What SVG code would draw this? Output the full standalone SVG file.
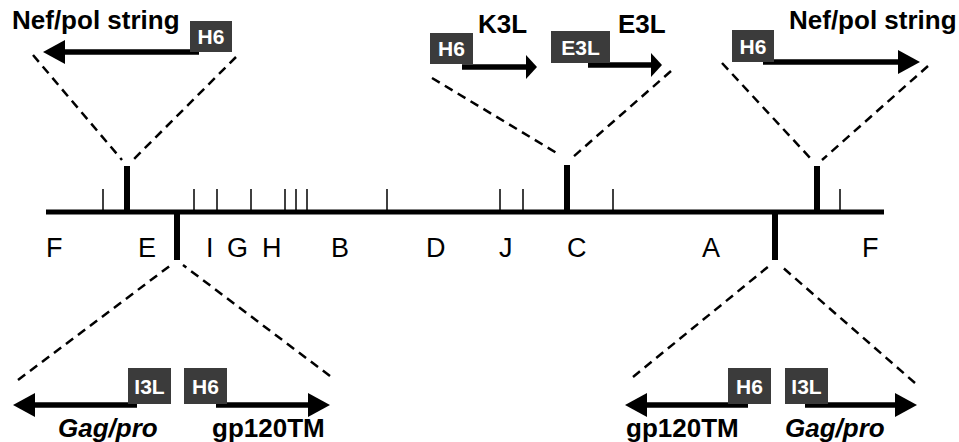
<svg xmlns="http://www.w3.org/2000/svg" width="959" height="442" viewBox="0 0 959 442">
<style>
.dash{stroke:#000;stroke-width:2.5;stroke-dasharray:9 6;fill:none}
.arr{stroke:#000;stroke-width:5.5;fill:none}
.box{fill:#3b3b3b}
.bt{font-family:"Liberation Sans",Arial,sans-serif;font-weight:bold;font-size:21px;fill:#fff}
.lbl{font-family:"Liberation Sans",Arial,sans-serif;font-weight:bold;font-size:26px;fill:#000}
.seg{font-family:"Liberation Sans",Arial,sans-serif;font-size:27px;fill:#000}
.thin{stroke:#000;stroke-width:1.5}
.thick{stroke:#000;stroke-width:6}
</style>
<defs>
<marker id="big" viewBox="0 0 22 24" refX="12" refY="12" markerWidth="22" markerHeight="24" markerUnits="userSpaceOnUse" orient="auto"><path d="M0,0 L22,12 L0,24 z" fill="#000"/></marker>
<marker id="small" viewBox="0 0 11 24" refX="4" refY="12" markerWidth="11" markerHeight="24" markerUnits="userSpaceOnUse" orient="auto"><path d="M0,0 L11,12 L0,24 z" fill="#000"/></marker>
</defs>
<g id="genome">
<line x1="46" y1="212" x2="884" y2="212" stroke="#000" stroke-width="5"/>
<g class="thin">
<line x1="103" y1="189" x2="103" y2="212"/><line x1="194" y1="189" x2="194" y2="212"/><line x1="217" y1="189" x2="217" y2="212"/><line x1="251" y1="189" x2="251" y2="212"/><line x1="285" y1="189" x2="285" y2="212"/><line x1="296" y1="189" x2="296" y2="212"/><line x1="307" y1="189" x2="307" y2="212"/><line x1="387" y1="189" x2="387" y2="212"/><line x1="500" y1="189" x2="500" y2="212"/><line x1="523" y1="189" x2="523" y2="212"/><line x1="613" y1="189" x2="613" y2="212"/><line x1="840" y1="189" x2="840" y2="212"/>
</g>
<g class="thick">
<line x1="127" y1="166" x2="127" y2="212"/><line x1="567" y1="165" x2="567" y2="212"/><line x1="817" y1="166" x2="817" y2="212"/>
<line x1="177" y1="212" x2="177" y2="260"/><line x1="775" y1="212" x2="775" y2="260"/>
</g>
<g class="seg">
<text x="46" y="257">F</text><text x="138" y="257">E</text><text x="206" y="257">I</text><text x="227" y="257">G</text><text x="262" y="257">H</text><text x="331" y="257">B</text><text x="426" y="257">D</text><text x="499" y="257">J</text><text x="567" y="257">C</text><text x="702" y="257">A</text><text x="862" y="257">F</text>
</g>
</g>
<g id="connectors">
<line class="dash" x1="33" y1="55" x2="122" y2="160"/><line class="dash" x1="236" y1="57" x2="133" y2="160"/>
<line class="dash" x1="432" y1="78" x2="560" y2="155"/><line class="dash" x1="671" y1="71" x2="573" y2="157"/>
<line class="dash" x1="722" y1="63" x2="812" y2="160"/><line class="dash" x1="928" y1="66" x2="822" y2="160"/>
<line class="dash" x1="18" y1="380" x2="171" y2="265"/><line class="dash" x1="330" y1="376" x2="183" y2="265"/>
<line class="dash" x1="633" y1="377" x2="769" y2="266"/><line class="dash" x1="915" y1="383" x2="781" y2="266"/>
</g>
<g id="insert-E">
<line class="arr" x1="199" y1="52" x2="53" y2="52" marker-end="url(#big)"/>
<rect class="box" x="190" y="21" width="42" height="31"/><text class="bt" x="211" y="44" text-anchor="middle">H6</text>
<text class="lbl" x="12" y="29">Nef/pol string</text>
</g>
<g id="insert-C">
<line class="arr" x1="462" y1="67" x2="530" y2="67" marker-end="url(#small)"/>
<rect class="box" x="430" y="33" width="43" height="31"/><text class="bt" x="451.5" y="56" text-anchor="middle">H6</text>
<text class="lbl" x="478" y="33">K3L</text>
<line class="arr" x1="588" y1="65" x2="655" y2="65" marker-end="url(#small)"/>
<rect class="box" x="551" y="31" width="59" height="32"/><text class="bt" x="580.5" y="55" text-anchor="middle">E3L</text>
<text class="lbl" x="618" y="33">E3L</text>
</g>
<g id="insert-F">
<line class="arr" x1="763" y1="62" x2="910" y2="62" marker-end="url(#big)"/>
<rect class="box" x="732" y="30" width="42" height="32"/><text class="bt" x="753" y="54" text-anchor="middle">H6</text>
<text class="lbl" x="789" y="29">Nef/pol string</text>
</g>
<g id="insert-I">
<line class="arr" x1="137" y1="405" x2="23" y2="405" marker-end="url(#big)"/>
<rect class="box" x="128" y="368" width="43" height="36"/><text class="bt" x="149.5" y="394" text-anchor="middle">I3L</text>
<line class="arr" x1="216" y1="405" x2="320" y2="405" marker-end="url(#big)"/>
<rect class="box" x="184" y="368" width="43" height="36"/><text class="bt" x="205.5" y="394" text-anchor="middle">H6</text>
<text class="lbl" x="58" y="437" font-style="italic">Gag/pro</text>
<text class="lbl" x="212" y="437">gp120TM</text>
</g>
<g id="insert-A">
<line class="arr" x1="748" y1="405" x2="635" y2="405" marker-end="url(#big)"/>
<rect class="box" x="728" y="368" width="43" height="36"/><text class="bt" x="749.5" y="394" text-anchor="middle">H6</text>
<line class="arr" x1="805" y1="405" x2="907" y2="405" marker-end="url(#big)"/>
<rect class="box" x="785" y="368" width="43" height="36"/><text class="bt" x="806.5" y="394" text-anchor="middle">I3L</text>
<text class="lbl" x="626" y="437">gp120TM</text>
<text class="lbl" x="785" y="437" font-style="italic">Gag/pro</text>
</g>
</svg>
